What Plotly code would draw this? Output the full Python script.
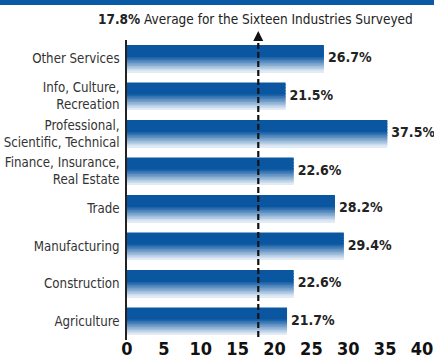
import plotly.graph_objects as go

categories = ["Agriculture", "Construction", "Manufacturing", "Trade",
              "Finance, Insurance,<br>Real Estate",
              "Professional,<br>Scientific, Technical",
              "Info, Culture,<br>Recreation", "Other Services"]
# bar lengths as drawn in the reference (the 37.5% bar is drawn shortened there)
bar_lengths = [21.7, 22.6, 29.4, 28.2, 22.6, 35.3, 21.5, 26.7]
value_labels = ["21.7%", "22.6%", "29.4%", "28.2%", "22.6%", "37.5%", "21.5%", "26.7%"]
average = 17.8
x_ticks = [0, 5, 10, 15, 20, 25, 30, 35, 40]

FONT = "DejaVu Sans Condensed, Liberation Sans Narrow, sans-serif"

fig = go.Figure()

bar_w = 0.72
n_slices = 18
top_rgb = (10, 86, 160)
bot_rgb = (236, 242, 250)
solid_frac = 0.42
sw = bar_w / n_slices
for i in range(n_slices):
    t = (i + 0.5) / n_slices
    if t <= solid_frac:
        f = 0.0
    else:
        f = (t - solid_frac) / (1 - solid_frac)
    c = tuple(int(round(a + (b - a) * f)) for a, b in zip(top_rgb, bot_rgb))
    fig.add_trace(go.Bar(
        x=bar_lengths, y=categories, orientation="h",
        width=sw * 1.15, offset=bar_w / 2 - (i + 1) * sw,
        marker=dict(color="rgb(%d,%d,%d)" % c, line=dict(width=0)),
        hoverinfo="skip", showlegend=False,
    ))

# value labels
fig.add_trace(go.Scatter(
    x=bar_lengths, y=categories, mode="text", text=value_labels,
    textposition="middle right",
    texttemplate=" <b>%{text}</b>",
    textfont=dict(family=FONT, size=14, color="#222"),
    showlegend=False, hoverinfo="skip", cliponaxis=False,
))

# dashed average line
fig.add_shape(type="line", xref="x", yref="paper", x0=average, x1=average,
              y0=0.01, y1=1.0, line=dict(color="#111", width=2.2, dash="6px,3px"))
fig.add_annotation(x=average, xref="x", y=1.03, yref="paper", ax=0, ay=10,
                   showarrow=True, arrowhead=2, arrowsize=1, arrowwidth=2,
                   arrowcolor="#111", text="")

# header strip
fig.add_shape(type="rect", xref="paper", yref="paper", x0=-0.5, x1=1.5,
              y0=1 + 35 / 300, y1=1 + 40 / 300, line=dict(width=0),
              fillcolor="#0b5aa6", layer="above")

fig.add_annotation(xref="paper", yref="paper", x=(255 - 127) / 295, y=1 + 21 / 300,
                   text="<b>17.8%</b> Average for the Sixteen Industries Surveyed",
                   showarrow=False, xanchor="center", yanchor="middle",
                   font=dict(family=FONT, size=13.5, color="#222"))

fig.update_layout(
    width=434, height=360,
    margin=dict(l=127, r=12, t=40, b=20),
    paper_bgcolor="white", plot_bgcolor="white",
    barmode="overlay", bargap=0.28,
    font=dict(family=FONT, color="#333"),
    xaxis=dict(range=[0, 40], tickvals=x_ticks,
               ticktext=["<b>%d</b>" % v for v in x_ticks],
               showgrid=False, zeroline=False, showline=False, ticks="",
               tickfont=dict(family=FONT, size=18, color="#111"),
               ticklabelstandoff=-4,
               automargin=False, fixedrange=True),
    yaxis=dict(categoryorder="array", categoryarray=categories,
               range=[-0.5, 7.5], showgrid=False, zeroline=False,
               showline=True, linecolor="#222", linewidth=1.5,
               ticks="", ticklabelstandoff=3, automargin=False,
               tickfont=dict(family=FONT, size=13.2, color="#333")),
)

fig.write_html("out.html")
